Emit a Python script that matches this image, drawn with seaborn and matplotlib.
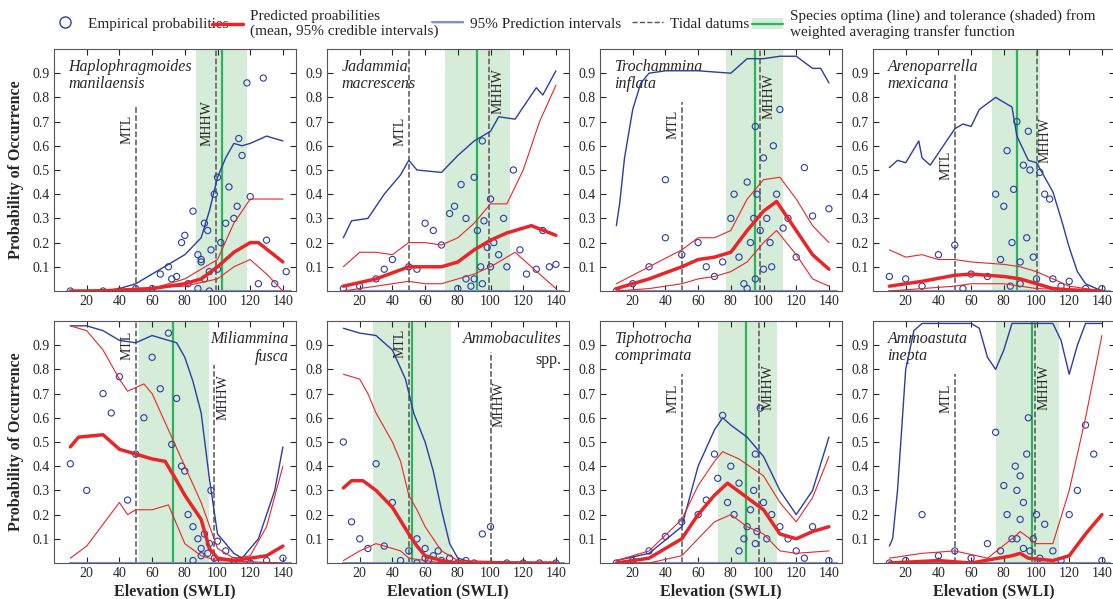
import numpy as np
import seaborn as sns
import matplotlib.pyplot as plt
from matplotlib.lines import Line2D
from matplotlib.patches import Patch
from matplotlib.legend_handler import HandlerTuple

sns.set_style("ticks")
plt.rcParams['font.family'] = ['Liberation Serif', 'DejaVu Serif']

species = [("Haplophragmoides\nmanilaensis", ""), ("Jadammia\nmacrescens", ""),
           ("Trochammina\ninflata", ""), ("Arenoparrella\nmexicana", ""),
           ("Miliammina\nfusca", ""), ("Ammobaculites", "spp."),
           ("Tiphotrocha\ncomprimata", ""), ("Ammoastuta\ninepta", "")]
optima = [103, 92, 95, 88, 73, 52, 89, 97]
tol_lo = [87, 72, 77, 73, 52, 28, 72, 75]
tol_hi = [118, 112, 112, 102, 95, 76, 108, 114]
mhhw = [99, 99, 98, 100, 98, 100, 97, 99]
mtl_line_top = [0.76, 1.0, 0.78, 0.9, 1.0, 1.0, 0.78, 0.78]
mhhw_line_top = [1.0, 1.0, 1.0, 1.0, 0.82, 0.87, 1.0, 1.0]
mtl_label_top = [0.73, 0.72, 0.75, 0.58, 0.96, 0.97, 0.74, 0.74]
mhhw_label_top = [0.79, 0.92, 0.9, 0.72, 0.78, 0.75, 0.82, 0.82]
mhhw_label_right = [False, True, True, True, True, True, True, True]

pi_curves = [
    ([10, 30, 40, 50, 60, 70, 80, 90, 95, 100, 105, 110, 115, 120, 130, 140],
     [0, 0, .01, .03, .07, .11, .15, .22, .33, .47, .55, .61, .6, .61, .64, .62]),
    ([10, 15, 25, 35, 45, 50, 55, 70, 80, 90, 95, 100, 105, 115, 120, 128, 132, 140],
     [.22, .29, .3, .4, .48, .54, .5, .49, .56, .62, .64, .66, .72, .71, .76, .84, .81, .91]),
    ([10, 12, 15, 20, 25, 30, 40, 60, 80, 90, 100, 110, 120, 130, 135, 140],
     [.27, .36, .55, .75, .86, .9, .91, .91, .9, .96, .96, .97, .97, .92, .92, .86]),
    ([10, 15, 20, 28, 30, 35, 45, 50, 55, 60, 65, 75, 85, 88, 95, 100, 110, 115, 120, 125, 130, 140],
     [.51, .54, .53, .62, .55, .52, .62, .67, .69, .68, .75, .8, .76, .64, .54, .53, .41, .3, .18, .08, .03, 0]),
    ([10, 20, 30, 40, 50, 60, 70, 75, 80, 85, 90, 95, 100, 110, 115, 125, 135, 140],
     [.98, .98, .96, .92, .91, .94, .92, .91, .85, .75, .62, .35, .12, .04, .02, .1, .3, .48]),
    ([10, 20, 30, 40, 48, 53, 60, 65, 70, 75, 80, 90, 140],
     [.97, .95, .94, .88, .76, .62, .5, .38, .22, .08, .02, 0, 0]),
    ([10, 30, 50, 60, 70, 75, 80, 90, 100, 110, 120, 130, 140],
     [.01, .04, .15, .4, .55, .6, .57, .52, .44, .3, .2, .3, .52]),
    ([10, 12, 15, 20, 25, 30, 60, 65, 70, 75, 80, 85, 110, 115, 120, 125, 130, 140],
     [.07, .1, .3, .8, .96, .99, .99, .97, .85, .8, .88, .99, .99, .92, .78, .9, .99, .99]),
]
mean_curves = [
    ([10, 40, 60, 80, 90, 100, 110, 120, 125, 140], [0, 0, .01, .03, .05, .1, .16, .2, .2, .12]),
    ([10, 30, 50, 60, 70, 80, 90, 100, 110, 120, 125, 140], [.02, .05, .1, .1, .1, .12, .17, .21, .24, .26, .27, .23]),
    ([10, 30, 50, 60, 70, 80, 90, 100, 108, 120, 130, 140], [.01, .05, .1, .13, .14, .16, .25, .33, .37, .25, .15, .09]),
    ([10, 30, 50, 60, 70, 80, 90, 100, 110, 120, 140], [.02, .04, .065, .07, .065, .06, .05, .03, .01, .005, 0]),
    ([10, 15, 30, 40, 50, 60, 68, 75, 80, 90, 95, 100, 110, 130, 140],
     [.48, .52, .53, .47, .45, .43, .42, .34, .28, .18, .06, .02, .01, .03, .07]),
    ([10, 15, 22, 30, 40, 50, 55, 60, 70, 80, 140], [.31, .34, .34, .3, .23, .12, .07, .03, .01, 0, 0]),
    ([10, 30, 50, 60, 70, 78, 90, 100, 110, 120, 130, 140], [0, .02, .1, .2, .28, .33, .27, .22, .12, .1, .13, .15]),
    ([10, 40, 60, 85, 90, 95, 110, 120, 130, 140], [0, .01, 0, .03, .04, .02, .01, .03, .12, .2]),
]
upper_curves = [
    ([10, 60, 80, 100, 110, 120, 130, 140], [0, .01, .05, .13, .28, .38, .38, .38]),
    ([10, 20, 30, 40, 50, 60, 70, 80, 90, 100, 110, 120, 130, 140], [.1, .16, .16, .15, .2, .2, .19, .22, .28, .36, .36, .5, .7, .85]),
    ([10, 30, 50, 60, 70, 80, 90, 100, 110, 120, 130, 140], [.03, .1, .17, .22, .22, .25, .38, .46, .47, .38, .27, .2]),
    ([10, 20, 30, 40, 50, 60, 80, 90, 100, 110, 120, 140], [.17, .14, .15, .13, .13, .12, .11, .1, .08, .05, .02, 0]),
    ([10, 20, 30, 40, 45, 55, 60, 70, 80, 90, 100, 110, 120, 130, 140],
     [.98, .96, .88, .76, .71, .74, .7, .55, .4, .25, .06, .02, .03, .15, .4]),
    ([10, 20, 25, 30, 40, 45, 50, 55, 60, 70, 80, 140], [.78, .76, .7, .62, .5, .42, .28, .22, .15, .05, .01, 0]),
    ([10, 30, 50, 60, 70, 75, 85, 100, 110, 120, 130, 140], [.01, .05, .18, .32, .42, .46, .43, .36, .25, .17, .27, .44]),
    ([10, 30, 50, 70, 85, 90, 100, 110, 120, 130, 140], [.02, .04, .05, .02, .1, .13, .08, .08, .3, .6, .94]),
]
lower_curves = [
    ([10, 80, 100, 110, 120, 130, 140], [0, .02, .05, .1, .13, .07, 0]),
    ([10, 30, 50, 60, 70, 80, 90, 100, 110, 115, 125, 140], [0, .02, .04, .03, .03, .05, .07, .1, .14, .16, .1, .01]),
    ([10, 30, 50, 60, 70, 80, 90, 100, 108, 120, 130, 140], [0, .01, .03, .05, .06, .08, .12, .2, .25, .15, .05, .02]),
    ([10, 50, 60, 80, 90, 100, 140], [0, .02, .03, .03, .02, .01, 0]),
    ([10, 20, 30, 40, 45, 50, 60, 70, 75, 80, 90, 100, 140], [.02, .07, .16, .25, .2, .22, .22, .24, .16, .08, .03, .01, 0]),
    ([10, 20, 30, 40, 45, 50, 60, 70, 140], [.01, .05, .08, .06, .05, .02, .01, 0, 0]),
    ([10, 30, 50, 60, 70, 80, 90, 100, 110, 120, 140], [0, 0, .03, .1, .17, .2, .15, .12, .05, .04, .05]),
    ([10, 140], [0, 0]),
]
emp_x = [
    [10, 30, 40, 50, 60, 65, 70, 72, 75, 78, 80, 82, 85, 88, 90, 90, 92, 94, 95, 96, 98, 100, 100, 102, 105, 107, 110, 112, 113, 115, 118, 120, 125, 128, 130, 135, 142, 88, 95, 92],
    [10, 20, 30, 35, 40, 50, 55, 60, 65, 70, 75, 78, 80, 82, 85, 88, 90, 92, 94, 95, 96, 98, 100, 102, 105, 108, 110, 114, 118, 122, 128, 132, 136, 140, 90, 95, 100, 85],
    [10, 20, 30, 40, 50, 60, 65, 70, 75, 80, 82, 85, 88, 90, 92, 94, 95, 96, 98, 100, 102, 104, 106, 108, 110, 112, 115, 120, 125, 130, 140, 40, 90, 95, 100, 105],
    [10, 20, 30, 40, 50, 55, 60, 70, 75, 78, 80, 82, 84, 86, 88, 90, 92, 94, 95, 96, 98, 100, 102, 105, 108, 110, 115, 120, 130, 140, 85, 90],
    [10, 20, 30, 35, 40, 45, 50, 55, 60, 65, 70, 72, 75, 78, 80, 82, 85, 88, 90, 92, 94, 95, 96, 98, 100, 105, 110, 120, 130, 140, 85, 90],
    [10, 15, 20, 25, 30, 35, 40, 45, 50, 55, 60, 62, 65, 68, 70, 75, 80, 85, 90, 95, 100, 110, 120, 130, 140, 55, 60],
    [10, 20, 30, 40, 50, 60, 65, 70, 72, 75, 78, 80, 82, 85, 88, 90, 92, 94, 95, 96, 98, 100, 102, 105, 110, 115, 120, 125, 130, 140, 85, 95],
    [10, 20, 30, 40, 50, 60, 70, 75, 78, 80, 82, 85, 87, 88, 90, 90, 92, 94, 95, 96, 98, 100, 102, 105, 110, 115, 120, 125, 130, 135, 140, 88, 92],
]
emp_y = [
    [0, 0, 0, .01, .01, .07, .1, .05, .06, .2, .23, .03, .33, .15, .13, .12, .28, .25, .08, .17, .4, .47, .09, .2, .28, .43, .3, .35, .63, .56, .86, .39, .03, .88, .21, .03, .08, .01, .0, .05],
    [.01, .02, .05, .09, .13, .1, .09, .28, .25, .19, .32, .35, .01, .44, .3, .02, .47, .25, .1, .62, .29, .18, .38, .2, .15, .3, .1, .5, .17, .07, .09, .25, .1, .11, .05, .03, .1, .05],
    [0, .03, .1, .46, .15, .2, .1, .06, .12, .3, .4, .14, .03, .45, .2, .3, .68, .4, .25, .55, .3, .2, .6, .4, .75, .26, .3, .14, .51, .31, .34, .22, .01, .05, .09, .1],
    [.06, .05, .02, .15, .19, .01, .07, .06, .4, .13, .35, .58, .02, .42, .7, .12, .52, .22, .66, .5, .14, .05, .49, .4, .38, .05, .02, .04, .01, .01, .2, .03],
    [.41, .3, .7, .62, .77, .26, .45, .6, .85, .72, .95, .49, .68, .4, .38, .2, .15, .1, .06, .12, .04, .08, .3, .02, .09, .05, .01, .0, .01, .02, .01, .03],
    [.5, .17, .1, .06, .41, .07, .25, .01, .05, .1, .02, .01, .03, .05, .01, .02, .0, .01, .0, .12, .15, .0, .0, .0, .0, .0, .06],
    [0, .01, .05, .11, .17, .2, .26, .45, .35, .61, .25, .4, .2, .33, .1, .15, .22, .3, .45, .13, .64, .25, .1, .2, .15, .1, .05, .02, .15, .01, .05, .08],
    [0, .01, .2, .03, .05, .02, .08, .54, .05, .32, .2, .1, .4, .3, .36, .18, .25, .45, .6, .05, .1, .2, .02, .16, .05, .01, .2, .3, .57, .45, .01, .1, .06],
]

blue = "#2b3ea0"
red = "#e8262a"
green = "#2fb35a"
band = "#d4ecd8"
grey = "#555555"

fig = plt.figure(figsize=(11.13, 5.99), dpi=100)
W, H = 242 / 1113, 242 / 599
lefts = [54 / 1113 + i * 273 / 1113 for i in range(4)]
bottoms = [1 - 291 / 599, 1 - 563 / 599]

for i in range(8):
    r, c = divmod(i, 4)
    ax = fig.add_axes([lefts[c], bottoms[r], W, H])
    ax.axvspan(tol_lo[i], tol_hi[i], color=band, lw=0, zorder=0)
    ax.axvline(optima[i], color=green, lw=1.6, zorder=1)
    ax.axvline(50, ymin=0, ymax=mtl_line_top[i], color=grey, ls="--", lw=1.1, zorder=1)
    ax.axvline(mhhw[i], ymin=0, ymax=mhhw_line_top[i], color=grey, ls="--", lw=1.1, zorder=1)
    sns.scatterplot(x=emp_x[i], y=emp_y[i], ax=ax, marker="o", s=20, facecolor="none",
                    edgecolor=blue, linewidth=0.8, zorder=3)
    ax.plot([10, 145], [0, 0], color="#7f8fd0", lw=1.5, zorder=2)
    sns.lineplot(x=pi_curves[i][0], y=pi_curves[i][1], ax=ax, color=blue, lw=1, zorder=4)
    sns.lineplot(x=upper_curves[i][0], y=upper_curves[i][1], ax=ax, color=red, lw=0.8, zorder=4)
    sns.lineplot(x=lower_curves[i][0], y=lower_curves[i][1], ax=ax, color=red, lw=0.8, zorder=4)
    sns.lineplot(x=mean_curves[i][0], y=mean_curves[i][1], ax=ax, color=red, lw=2.5, zorder=5)
    ax.set_xlim(0, 148)
    ax.set_ylim(0, 1.0)
    ax.set_xticks(range(20, 141, 20))
    ax.set_yticks([round(0.1 * k, 1) for k in range(1, 10)])
    ax.tick_params(direction="in", labelsize=10, length=4, top=True, right=True,
                   labeltop=False, labelright=False, pad=3)
    for s in ax.spines.values():
        s.set_color("#555555")
    name, extra = species[i]
    if i in (4, 5):
        ax.text(0.97, 0.96, name, transform=ax.transAxes, ha="right", va="top", style="italic", fontsize=11.5)
        if extra:
            ax.text(0.97, 0.87, extra, transform=ax.transAxes, ha="right", va="top", fontsize=11.5)
    else:
        ax.text(0.06, 0.96, name, transform=ax.transAxes, ha="left", va="top", style="italic", fontsize=11.5,
                linespacing=1.15)
    ax.text(48.5, mtl_label_top[i], "MTL", rotation=90, ha="right", va="top", fontsize=10)
    if mhhw_label_right[i]:
        ax.text(mhhw[i] + 1.5, mhhw_label_top[i], "MHHW", rotation=90, ha="left", va="top", fontsize=10)
    else:
        ax.text(mhhw[i] - 1.5, mhhw_label_top[i], "MHHW", rotation=90, ha="right", va="top", fontsize=10)
    if c == 0:
        ax.set_ylabel("Probability of Occurrence", fontsize=11.5, fontweight="bold", labelpad=6)
    if r == 1:
        ax.set_xlabel("Elevation (SWLI)", fontsize=11.5, fontweight="bold", labelpad=2)

leg_items = [
    (Line2D([], [], marker="o", ls="none", markerfacecolor="none", markeredgecolor=blue, markersize=8),
     "Empirical probabilities", 50),
    ((Line2D([], [], color=red, lw=1), Line2D([], [], color=red, lw=2.5)),
     "Predicted proabilities\n(mean, 95% credible intervals)", 212),
    ((Line2D([], [], color=blue, lw=1), Line2D([], [], color="#7f8fd0", lw=1.5)),
     "95% Prediction intervals", 432),
    (Line2D([], [], color=grey, ls="--", lw=1), "Tidal datums", 632),
    ((Patch(facecolor=band, edgecolor="none"), Line2D([], [], color=green, lw=1.6)),
     "Species optima (line) and tolerance (shaded) from\nweighted averaging transfer function", 752),
]
for h, lab, px in leg_items:
    fig.legend([h], [lab], loc="center left", bbox_to_anchor=(px / 1113, 1 - 24 / 599), frameon=False,
               fontsize=11, handlelength=2.0, handletextpad=0.5, borderpad=0, borderaxespad=0,
               labelspacing=0, handler_map={tuple: HandlerTuple(ndivide=1, pad=0)})
fig.savefig("out.png", dpi=100)
